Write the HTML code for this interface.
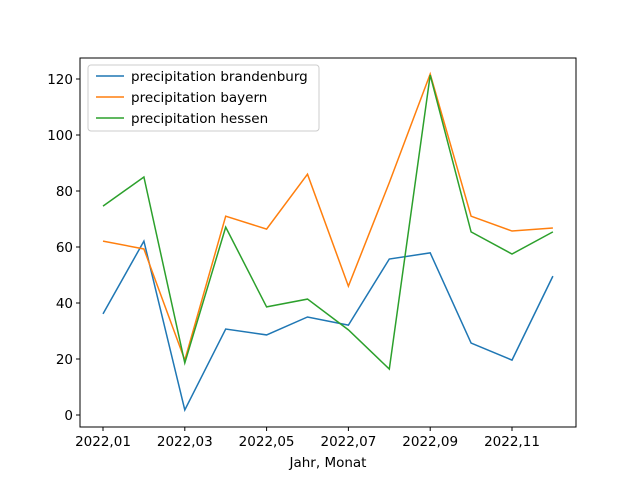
<!DOCTYPE html>
<html><head><meta charset="utf-8"><style>
body{margin:0;background:#fff}
svg text{font-family:"DejaVu Sans","Liberation Sans",sans-serif;font-size:13.5px;fill:#000}
</style></head><body>
<svg width="640" height="480" xmlns="http://www.w3.org/2000/svg">
<rect x="0" y="0" width="640" height="480" fill="#fff"/>
<g id="plot"></g>
<rect x="80" y="58" width="496" height="369" fill="none" stroke="#000" stroke-width="1"/>
<text x="328" y="467" text-anchor="middle">Jahr, Monat</text>
<g>
<rect x="88" y="65" width="231" height="66" rx="3" fill="#fff" fill-opacity="0.8" stroke="#ccc"/>
<line x1="96" y1="76" x2="124" y2="76" stroke="#1f77b4" stroke-width="1.5"/>
<text x="131" y="81">precipitation brandenburg</text>
<line x1="96" y1="97" x2="124" y2="97" stroke="#ff7f0e" stroke-width="1.5"/>
<text x="131" y="102">precipitation bayern</text>
<line x1="96" y1="118" x2="124" y2="118" stroke="#2ca02c" stroke-width="1.5"/>
<text x="131" y="123">precipitation hessen</text>
</g>
</svg>
<script>
const months = ["2022,01","2022,02","2022,03","2022,04","2022,05","2022,06","2022,07","2022,08","2022,09","2022,10","2022,11","2022,12"];
const xTickLabels = ["2022,01","2022,03","2022,05","2022,07","2022,09","2022,11"];
const yTicks = [0,20,40,60,80,100,120];
const brandenburg = [36.1,62.1,1.8,30.7,28.6,35.0,32.1,55.7,57.9,25.7,19.6,49.6];
const bayern = [62.1,59.3,19.6,71.0,66.4,86.0,46.0,83.0,121.8,71.0,65.7,66.8];
const hessen = [74.6,85.0,18.6,67.1,38.6,41.4,30.4,16.4,121.4,65.4,57.5,65.4];

const NS="http://www.w3.org/2000/svg";
const g=document.getElementById('plot');
function xs(i){return 103+i*40.9;}
function ys(v){return 415-v*2.8;}
function mk(t,a){const e=document.createElementNS(NS,t);for(const k in a)e.setAttribute(k,a[k]);g.appendChild(e);return e;}
yTicks.forEach(v=>{
  const l=mk('line',{x1:76,x2:80,y1:ys(v),y2:ys(v),stroke:'#000'});
  
  
  const t=mk('text',{x:73,y:ys(v)+5,'text-anchor':'end'});t.textContent=v;
  
  
});
xTickLabels.forEach(lab=>{
  const i=months.indexOf(lab);
  const l=mk('line',{x1:xs(i),x2:xs(i),y1:427,y2:431,stroke:'#000'});
  
  
  const t=mk('text',{x:xs(i),y:446,'text-anchor':'middle'});t.textContent=lab;
  
  
});
[[brandenburg,'#1f77b4','brandenburg'],[bayern,'#ff7f0e','bayern'],[hessen,'#2ca02c','hessen']].forEach(([d,c,n])=>{
  const p=mk('polyline',{points:d.map((v,i)=>xs(i)+','+ys(v)).join(' '),fill:'none',stroke:c,'stroke-width':1.5});
  
  
});
</script>
</body></html>
